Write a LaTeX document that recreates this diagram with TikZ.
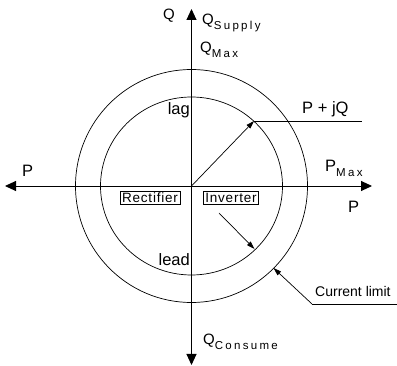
\documentclass[tikz,border=0pt]{standalone}
\usepackage{fontspec}
\setmainfont{Liberation Sans}
\newfontfamily\spacedfont[LetterSpace=20]{Liberation Sans}
\newfontfamily\boxfont[LetterSpace=6]{Liberation Sans}
\usetikzlibrary{arrows.meta}
\newcommand\lowsub[1]{\raisebox{-4.5pt}{\spacedfont\fontsize{11.5}{13}\selectfont #1}}
\begin{document}
\begin{tikzpicture}[x=1pt,y=-1pt,
  big/.style={font=\fontsize{16.5}{18}\selectfont, inner sep=0pt},
  qlbl/.style={font=\fontsize{15}{17}\selectfont, inner sep=0pt},
  small/.style={font=\fontsize{14}{16}\selectfont, inner sep=0pt},
  boxed/.style={draw, line width=0.7pt, font=\boxfont\fontsize{13.5}{15}\selectfont, inner xsep=2pt, inner ysep=1.5pt},
  axis/.style={line width=0.9pt, {Triangle[length=11pt,width=10pt]}-{Triangle[length=11pt,width=10pt]}},
  ptr/.style={line width=0.7pt, -{Triangle[length=8pt,width=5pt]}},
  circ/.style={line width=0.7pt}]
\useasboundingbox[fill=white] (0,0) rectangle (397,366);
% axes
\coordinate (O) at (191.5,186);
\coordinate (L) at (5,186);
\coordinate (R) at (372,186);
\coordinate (T) at (191.5,9);
\coordinate (B) at (191.5,365);
\draw[axis] (L) -- (R);
\draw[axis] (T) -- (B);
% circles
\draw[circ] (O) ellipse [x radius=116pt, y radius=116.5pt];
\draw[circ] (O) ellipse [x radius=91pt, y radius=89pt];
% labels
\node[qlbl, anchor=base west] (qtop) at (163,20) {Q};
\node[qlbl, anchor=base west] (qsup) at (202,25) {Q\lowsub{Supply}};
\node[qlbl, anchor=base west] (qmax) at (200,53) {Q\lowsub{Max}};
\node[qlbl, anchor=base west] (qcon) at (203,345) {Q\lowsub{Consume}};
\node[big, anchor=base east] (lag) at (190,115) {lag};
\node[big, anchor=base east] (lead) at (190,266) {lead};
\node[big, anchor=base west] (pjq) at (302,114) {P + jQ};
\node[big, anchor=base west] (pl) at (22,177) {P};
\node[big, anchor=base west] (pmax) at (325,172) {P\lowsub{Max}};
\node[big, anchor=base west] (pr) at (348,213) {P};
\node[small, anchor=base west] (cl) at (315,297) {Current limit};
\node[boxed] (rect) at (150,198) {Rectifier};
\node[boxed] (inv) at (231,198) {Inverter};
% P + jQ pointer
\coordinate (pq) at (254,121);
\coordinate (pqend) at (362,121);
\draw[ptr] (O) -- (pq);
\draw[line width=0.7pt] (pq) -- (pqend);
% inverter pointer
\coordinate (invs) at (219,213);
\coordinate (invt) at (254.5,249);
\draw[ptr] (invs) -- (invt);
% current limit pointer
\coordinate (cl1) at (312,304);
\coordinate (cl2) at (397,304);
\coordinate (clt) at (273.5,268);
\draw[ptr] (cl1) -- (clt);
\draw[line width=0.7pt] (cl1) -- (cl2);
\end{tikzpicture}
\end{document}
